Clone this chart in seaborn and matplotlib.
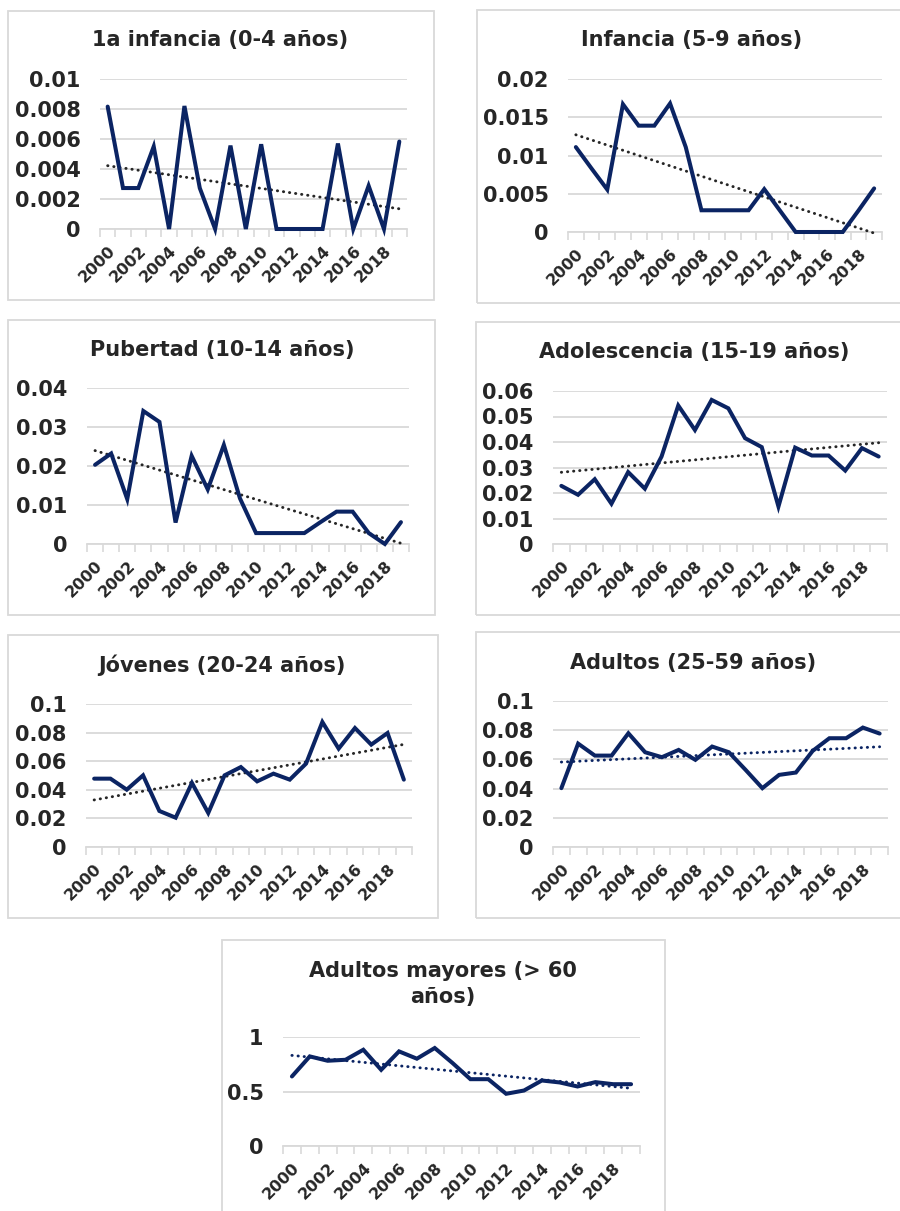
import numpy as np
import matplotlib
matplotlib.use("Agg")
import matplotlib.pyplot as plt
from matplotlib.patches import Rectangle
import seaborn as sns

# ---- data -------------------------------------------------------------
years = list(range(2000, 2020))

titles = [
    "1a infancia (0-4 años)",
    "Infancia (5-9 años)",
    "Pubertad (10-14 años)",
    "Adolescencia (15-19 años)",
    "Jóvenes (20-24 años)",
    "Adultos (25-59 años)",
    "Adultos mayores (> 60\naños)",
]

infancia_1a = [0.00816, 0.00273, 0.00273, 0.0055, 0.0, 0.0082, 0.00273, 0.0,
               0.00556, 0.0, 0.00565, 0.0, 0.0, 0.0, 0.0, 0.0057, 0.0,
               0.00288, 0.0, 0.00583]
infancia = [0.0111, 0.0083, 0.00555, 0.0167, 0.0139, 0.0139, 0.0168, 0.0111,
            0.00284, 0.00284, 0.00284, 0.00284, 0.0056, 0.0028, 0.0, 0.0,
            0.0, 0.0, 0.0028, 0.0057]
pubertad = [0.0203, 0.0232, 0.0115, 0.0341, 0.0313, 0.0055, 0.0226, 0.0140,
            0.0254, 0.0117, 0.0028, 0.0028, 0.0028, 0.0028, 0.0056, 0.0083,
            0.0083, 0.0028, 0.0, 0.0056]
adolescencia = [0.0228, 0.0193, 0.0254, 0.0158, 0.0282, 0.0217, 0.0343,
                0.0543, 0.0447, 0.0565, 0.0532, 0.0415, 0.0380, 0.0147,
                0.0378, 0.0347, 0.0347, 0.0288, 0.0376, 0.0343]
jovenes = [0.0478, 0.0478, 0.0401, 0.0501, 0.0252, 0.0205, 0.0448, 0.0238,
           0.0501, 0.0559, 0.0459, 0.0513, 0.0471, 0.0583, 0.0874, 0.0688,
           0.0832, 0.0716, 0.0797, 0.0471]
adultos = [0.0403, 0.0708, 0.0626, 0.0626, 0.0779, 0.0649, 0.0615, 0.0665,
           0.0597, 0.0688, 0.0649, 0.0528, 0.0403, 0.0494, 0.0510, 0.0658,
           0.0745, 0.0745, 0.0818, 0.0777]
mayores = [0.638, 0.822, 0.782, 0.791, 0.883, 0.699, 0.868, 0.801, 0.899,
           0.761, 0.613, 0.613, 0.479, 0.509, 0.601, 0.583, 0.546, 0.586,
           0.567, 0.567]

series = [infancia_1a, infancia, pubertad, adolescencia, jovenes, adultos, mayores]

y_ticks = [
    [0, 0.002, 0.004, 0.006, 0.008, 0.01],
    [0, 0.005, 0.01, 0.015, 0.02],
    [0, 0.01, 0.02, 0.03, 0.04],
    [0, 0.01, 0.02, 0.03, 0.04, 0.05, 0.06],
    [0, 0.02, 0.04, 0.06, 0.08, 0.1],
    [0, 0.02, 0.04, 0.06, 0.08, 0.1],
    [0, 0.5, 1],
]
y_labels = [
    ["0", "0.002", "0.004", "0.006", "0.008", "0.01"],
    ["0", "0.005", "0.01", "0.015", "0.02"],
    ["0", "0.01", "0.02", "0.03", "0.04"],
    ["0", "0.01", "0.02", "0.03", "0.04", "0.05", "0.06"],
    ["0", "0.02", "0.04", "0.06", "0.08", "0.1"],
    ["0", "0.02", "0.04", "0.06", "0.08", "0.1"],
    ["0", "0.5", "1"],
]

# ---- layout (pixels, origin top-left) ---------------------------------
W, H = 900, 1211
plot_boxes = [  # x0, x1, y_top, y_bottom of each plot area
    (100, 407, 79, 229),
    (568, 882, 79, 232),
    (87, 409, 388, 544),
    (553, 887, 391, 544),
    (86, 412, 704, 847),
    (553, 888, 701, 847),
    (283, 640, 1037, 1146),
]
frames = [  # x0, x1, y0, y1 of each chart border
    (8, 434, 11, 300),
    (477, 902, 10, 303),
    (8, 435, 320, 615),
    (476, 902, 322, 615),
    (8, 438, 635, 918),
    (476, 902, 632, 918),
    (222, 665, 940, 1215),
]
title_pos = [(220, 40), (692, 40), (222, 350), (694, 352),
             (222, 665), (693, 663), (443, 984)]
trend_colors = ["#262626"] * 5 + ["#0b2463"] * 2

NAVY = "#0b2463"
TEXT = "#262626"
GRID = "#d9d9d9"

sns.set_theme(style="white")
plt.rcParams["font.family"] = ["DejaVu Sans"]
plt.rcParams["font.weight"] = "bold"

fig = plt.figure(figsize=(W / 100, H / 100), dpi=100)

for i, vals in enumerate(series):
    fx0, fx1, fy0, fy1 = frames[i]
    fig.add_artist(Rectangle((fx0 / W, 1 - fy1 / H), (fx1 - fx0) / W,
                             (fy1 - fy0) / H, transform=fig.transFigure,
                             fill=False, ec=GRID, lw=1.3))

    x0, x1, yt, yb = plot_boxes[i]
    ax = fig.add_axes([x0 / W, 1 - yb / H, (x1 - x0) / W, (yb - yt) / H])

    sns.regplot(x=years, y=vals, ax=ax, scatter=False, ci=None,
                line_kws=dict(color=trend_colors[i], lw=2.1,
                              ls=(0, (0.1, 2.0)), dash_capstyle="round",
                              clip_on=False, zorder=3))
    sns.lineplot(x=years, y=vals, ax=ax, color=NAVY, lw=2.9,
                 clip_on=False, solid_joinstyle="miter", zorder=4)

    ax.set_xlim(years[0] - 0.5, years[-1] + 0.5)
    ax.set_ylim(y_ticks[i][0], y_ticks[i][-1])
    ax.set_yticks(y_ticks[i])
    ax.set_yticklabels(y_labels[i], fontsize=15, fontweight="bold", color=TEXT)
    ax.set_xticks(years[::2])
    ax.set_xticklabels([str(y) for y in years[::2]], rotation=45, ha="right",
                       rotation_mode="anchor", fontsize=11.5,
                       fontweight="bold", color=TEXT)
    ax.set_xticks(np.arange(years[0] - 0.5, years[-1] + 1), minor=True)
    ax.tick_params(axis="x", which="major", length=0, pad=10)
    ax.tick_params(axis="x", which="minor", length=6, width=1.2,
                   color=GRID, direction="out", bottom=True)
    ax.tick_params(axis="y", length=0, pad=14)
    ax.yaxis.grid(True, color=GRID, lw=1.3)
    ax.xaxis.grid(False)
    ax.set_axisbelow(True)
    for side in ("top", "right", "left"):
        ax.spines[side].set_visible(False)
    ax.spines["bottom"].set_color(GRID)
    ax.spines["bottom"].set_linewidth(1.3)
    ax.spines["bottom"].set_zorder(1)
    ax.set_xlabel("")
    ax.set_ylabel("")

    tx, ty = title_pos[i]
    fig.text(tx / W, 1 - ty / H, titles[i], ha="center", va="center",
             fontsize=15, fontweight="bold", color=TEXT, linespacing=1.4)

fig.savefig("out.png", dpi=100, facecolor="white")
